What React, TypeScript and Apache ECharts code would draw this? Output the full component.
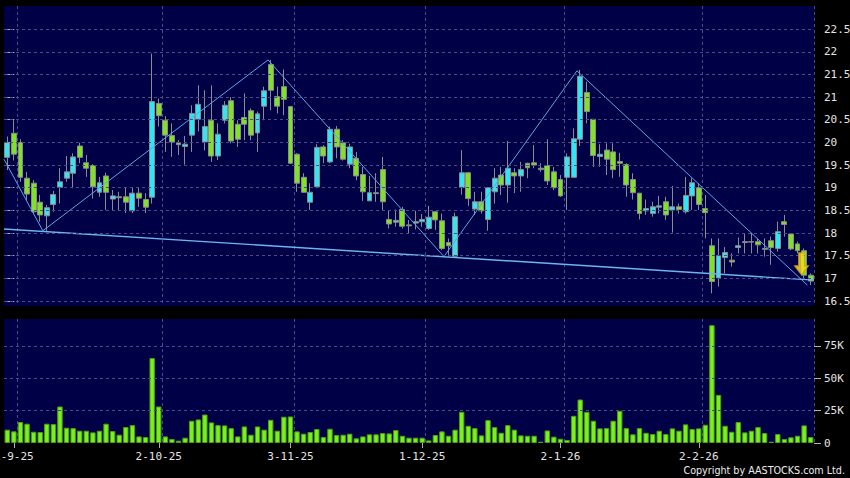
import React, { useEffect, useRef } from 'react';
import * as echarts from 'echarts';

// Trading days (day numbers) per month, d-m-yy labels
const aug25Days = [29];
const sep25Days = [1, 2, 3, 4, 5, 8, 9, 10, 11, 12, 15, 16, 17, 18, 19, 22, 23, 24, 25, 26, 29, 30];
const oct25Days = [2, 3, 6, 8, 9, 10, 13, 14, 15, 16, 17, 20, 21, 22, 23, 24, 27, 28, 30, 31];
const nov25Days = [3, 4, 5, 6, 7, 10, 11, 12, 13, 14, 17, 18, 19, 20, 21, 24, 25, 26, 27, 28];
const dec25Days = [1, 2, 3, 4, 5, 8, 9, 10, 11, 12, 15, 16, 17, 18, 19, 22, 23, 24, 29, 30, 31];
const jan26Days = [2, 5, 6, 7, 8, 9, 12, 13, 14, 15, 16, 19, 20, 21, 22, 23, 26, 27, 28, 29, 30];
const feb26Days = [2, 3, 4, 5, 6, 9, 10, 11, 12, 13, 16, 20, 23, 24, 25, 26, 27];
const mar26Days = [2];

const tickLabels = ['1-9-25', '2-10-25', '3-11-25', '1-12-25', '2-1-26', '2-2-26'];

const openP = [19.67,20.2,20.0,19.21,19.1,18.68,18.38,18.63,19.01,19.21,
 19.32,19.92,19.55,19.49,18.9,19.26,18.75,18.8,18.8,18.49,
 18.88,18.74,18.79,20.86,20.49,20.15,19.99,19.91,20.16,20.51,
 20.01,20.49,19.7,20.49,20.92,20.4,20.55,20.7,20.21,20.8,
 21.72,21.01,21.23,20.79,19.74,19.23,18.68,19.02,19.9,19.57,
 20.29,19.99,19.52,19.65,19.29,18.71,18.89,19.4,18.3,18.24,
 18.52,18.18,18.22,18.25,18.1,18.47,18.27,17.79,17.49,19.01,
 19.33,18.53,18.69,18.3,18.91,19.28,19.06,19.33,19.26,19.54,
 19.55,19.43,19.49,19.35,19.18,19.23,19.23,20.07,21.1,20.51,
 19.69,19.83,19.79,19.58,19.51,19.18,18.88,18.49,18.43,18.57,
 18.69,18.51,18.58,18.47,18.82,19.0,18.54,17.72,17.01,17.46,
 17.4,17.68,17.79,17.8,17.81,17.66,17.83,17.66,18.25,17.98,
 17.76,17.61,17.07];

const closeP = [20.0,19.74,19.23,18.86,18.47,18.4,18.56,18.85,19.13,19.35,
 19.68,19.67,19.43,19.02,19.11,18.9,18.82,18.78,18.68,18.88,
 18.77,18.57,20.9,20.59,20.16,20.01,19.95,19.96,20.64,20.84,
 20.35,19.7,20.18,20.82,20.03,20.07,20.4,20.16,20.63,21.14,
 21.15,20.8,20.95,19.54,19.1,18.9,18.9,19.89,19.7,20.29,
 19.9,19.63,19.9,19.26,18.91,18.89,18.87,18.69,18.2,18.28,
 18.15,18.16,18.25,18.3,18.35,18.29,17.66,17.72,18.36,19.33,
 18.76,18.69,18.49,19.0,19.21,19.06,19.43,19.26,19.4,19.44,
 19.5,19.4,19.15,19.0,18.82,19.68,20.08,21.46,20.68,19.71,
 19.74,19.63,19.4,19.54,19.06,18.89,18.43,18.54,18.58,18.6,
 18.4,18.58,18.52,18.83,19.11,18.63,18.45,16.93,17.5,17.57,
 17.36,17.72,17.81,17.81,17.74,17.64,17.68,18.03,18.19,17.65,
 17.61,17.07,16.94];

const lowP = [19.39,19.6,19.13,18.73,18.43,18.25,18.05,18.47,18.65,19.13,
 18.99,19.54,19.24,18.76,18.8,18.51,18.51,18.51,18.44,18.44,
 18.58,18.44,18.65,20.35,19.79,19.68,19.72,19.51,19.79,20.24,
 19.82,19.57,19.61,20.42,19.98,19.9,20.05,20.05,19.79,20.49,
 20.71,20.64,20.6,19.52,18.91,18.89,18.51,18.99,19.54,19.54,
 19.65,19.6,19.43,19.17,18.71,18.71,18.69,18.51,18.1,18.14,
 18.1,17.99,18.08,18.14,18.07,18.07,17.62,17.48,17.48,18.85,
 18.6,18.4,18.43,18.05,18.65,18.84,18.67,18.88,18.91,19.21,
 19.43,19.35,19.06,18.95,18.8,18.51,19.23,19.92,20.42,19.46,
 19.46,19.28,19.21,19.24,18.8,18.74,18.3,18.4,18.36,18.43,
 18.29,18.01,18.43,18.43,18.51,18.51,17.88,16.67,16.82,17.11,
 17.26,17.55,17.55,17.55,17.55,17.48,17.3,17.59,17.92,17.62,
 17.55,17.0,16.85];

const highP = [20.13,20.49,20.07,19.35,19.17,18.84,18.62,18.93,19.43,19.7,
 19.76,19.99,19.72,19.52,19.24,19.33,18.95,18.91,19.0,19.0,
 19.0,18.88,21.96,20.97,20.58,20.42,20.05,20.14,20.82,21.26,
 21.15,21.26,20.42,20.91,21.0,20.49,21.08,20.75,20.68,21.23,
 21.82,21.23,21.61,20.8,19.76,19.32,19.1,19.96,19.94,20.35,
 20.36,20.05,19.97,19.79,19.46,19.26,19.32,19.68,18.51,18.52,
 18.58,18.29,18.49,18.42,18.6,18.49,18.43,17.88,18.45,19.83,
 19.35,18.91,18.91,19.01,19.43,19.46,20.03,19.43,19.57,19.55,
 19.94,19.54,20.07,19.46,19.28,19.76,20.31,21.6,21.34,20.51,
 19.96,19.98,19.98,19.77,19.54,19.32,18.88,18.74,18.69,18.82,
 18.8,19.04,18.65,19.24,19.21,19.1,18.84,17.88,17.88,17.69,
 17.55,17.9,17.99,18.0,17.88,17.88,17.92,18.25,18.4,17.99,
 17.81,17.66,17.11];

// Volume in thousands of shares
const volumeK = [10.3,9,16.2,14.9,8.7,8.5,14.9,14.6,28.2,11.8,
 11.5,9.5,9.5,8.2,9.5,14.9,9.2,6.4,12.3,13.8,
 5.1,4.6,65.6,28.2,5.1,3.1,1.8,4.1,17.2,18.2,
 22,15.9,13.8,13.6,11.5,5.1,12.8,6.4,12.8,10.3,
 17.9,9.5,20.3,20.5,9,7.2,8.5,10.8,4.6,11,
 6.2,6.4,7.2,3.6,5.1,6.7,6.7,7.7,7.4,10,
 5.6,4.1,4.1,4.1,2,6.2,9,5.6,10.3,24.1,
 13.3,11.5,5.9,17.7,12.3,7.9,13.8,10.3,5.9,5.6,
 5.6,1,9.7,4.9,3.3,2.3,21,33.6,24.1,17.2,
 11.3,11.5,17.2,24.9,11.5,6.7,11.5,7.9,6.9,9.5,
 6.9,11.3,9.5,14.4,10.8,11.3,14.1,91,37.2,13.3,
 8.7,16.2,8.2,9.5,12.3,7.7,1,6.9,3.1,4.4,
 5.6,13.6,4.6];

// Trend lines: [candle index, price]
const zigzagX = [-0.5, 5.4, 39.6, 66.3, 86.5, 121.5];
const zigzagY = [19.63, 18.05, 21.82, 17.48, 21.58, 16.85];
const supportX = [-0.5, 122.5];
const supportY = [18.09, 16.96];
const arrowPoint = [120.6, 17.32];

const priceTicks = [16.5, 17, 17.5, 18, 18.5, 19, 19.5, 20, 20.5, 21, 21.5, 22, 22.5];
const volumeTicks = [0, 25, 50, 75];

const NAVY = '#000046';
const GRID = '#4b4b86';
const UP = '#33e4f2';
const DOWN = '#80e224';
const BORDER = '#8c8c8c';
const VOL = '#7cf01c';
const LABEL = '#e4e4e4';
const MONO = '"DejaVu Sans Mono", monospace';

function buildCategories(): string[] {
  const months: [number[], number, number][] = [
    [aug25Days, 8, 25], [sep25Days, 9, 25], [oct25Days, 10, 25], [nov25Days, 11, 25],
    [dec25Days, 12, 25], [jan26Days, 1, 26], [feb26Days, 2, 26], [mar26Days, 3, 26],
  ];
  const out: string[] = [];
  months.forEach(([days, m, y]) => days.forEach((d) => out.push(`${d}-${m}-${y}`)));
  return out;
}

export default function App() {
  const ref = useRef<HTMLDivElement>(null);

  useEffect(() => {
    if (!ref.current) return;
    const chart = echarts.init(ref.current, undefined, { renderer: 'svg' });
    const categories = buildCategories();
    const labelIdx = new Set(tickLabels.map((t) => categories.indexOf(t)));
    const gridIdx = new Set(Array.from(labelIdx).map((i) => i + 1));
    const labelFn = (i: number) => labelIdx.has(i);
    const gridFn = (i: number) => gridIdx.has(i);

    const candles = openP.map((o, i) => [o, closeP[i], lowP[i], highP[i]]);
    const zigzag = zigzagX.map((x, i) => [x, zigzagY[i]]);
    const support = supportX.map((x, i) => [x, supportY[i]]);

    const splitStyle = { color: GRID, type: [3, 3] as any, width: 1 };

    const option: any = {
      animation: false,
      backgroundColor: '#000000',
      grid: [
        { left: 4, top: 6, width: 810, height: 300, show: true, backgroundColor: NAVY, borderWidth: 0, containLabel: false, outerBoundsMode: 'none' },
        { left: 4, top: 319, width: 810, height: 124, show: true, backgroundColor: NAVY, borderWidth: 0, containLabel: false, outerBoundsMode: 'none' },
      ],
      xAxis: [
        {
          type: 'category', gridIndex: 0, data: categories, boundaryGap: true,
          axisLine: { show: false }, axisTick: { show: false }, axisLabel: { show: false },
          splitLine: { show: true, interval: gridFn, lineStyle: splitStyle },
        },
        {
          type: 'category', gridIndex: 1, data: categories, boundaryGap: true,
          axisLine: { show: false },
          axisTick: { show: true, alignWithLabel: true, interval: labelFn, length: 5, lineStyle: { color: '#b0b0b0' } },
          axisLabel: { interval: labelFn, color: LABEL, fontFamily: MONO, fontSize: 11, margin: 8, hideOverlap: false },
          splitLine: { show: true, interval: gridFn, lineStyle: splitStyle },
        },
        { type: 'value', gridIndex: 0, min: -0.5, max: 122.5, show: false },
      ],
      yAxis: [
        {
          type: 'value', gridIndex: 0, position: 'right', min: 16.39, max: 23.01, scale: true,
          axisLine: { show: false },
          axisTick: { show: true, customValues: priceTicks, length: 7, lineStyle: { color: '#b0b0b0' } },
          axisLabel: { customValues: priceTicks, color: LABEL, fontFamily: MONO, fontSize: 11, margin: 10, formatter: (v: number) => String(v) },
          splitLine: { show: false },
        },
        {
          type: 'value', gridIndex: 1, position: 'right', min: 0, max: 95.8,
          axisLine: { show: false },
          axisTick: { show: true, customValues: volumeTicks, length: 7, lineStyle: { color: '#b0b0b0' } },
          axisLabel: { customValues: volumeTicks, color: LABEL, fontFamily: MONO, fontSize: 11, margin: 10, formatter: (v: number) => (v === 0 ? '0' : `${v}K`) },
          splitLine: { show: false },
        },
      ],
      series: [
        {
          type: 'line', xAxisIndex: 0, yAxisIndex: 0, data: [], z: 1, silent: true,
          markLine: {
            silent: true, symbol: ['none', 'none'], label: { show: false },
            lineStyle: splitStyle, emphasis: { disabled: true },
            data: priceTicks.map((v) => ({ yAxis: v })),
          },
        },
        {
          type: 'line', xAxisIndex: 1, yAxisIndex: 1, data: [], z: 1, silent: true,
          markLine: {
            silent: true, symbol: ['none', 'none'], label: { show: false },
            lineStyle: splitStyle, emphasis: { disabled: true },
            data: volumeTicks.filter((v) => v > 0).map((v) => ({ yAxis: v })),
          },
        },
        {
          type: 'candlestick', xAxisIndex: 0, yAxisIndex: 0, data: candles, barWidth: '82%', z: 3,
          itemStyle: { color: UP, color0: DOWN, borderColor: BORDER, borderColor0: BORDER, borderWidth: 1 },
        },
        {
          type: 'line', xAxisIndex: 2, yAxisIndex: 0, data: zigzag, symbol: 'none', z: 4, silent: true,
          lineStyle: { color: '#58a8e6', width: 1 },
        },
        {
          type: 'line', xAxisIndex: 2, yAxisIndex: 0, data: support, symbol: 'none', z: 4, silent: true,
          lineStyle: { color: '#6cb6ee', width: 1.4 },
        },
        {
          type: 'scatter', xAxisIndex: 2, yAxisIndex: 0, data: [arrowPoint], z: 5, silent: true,
          symbol: 'path://M4,0 L10,0 L10,13 L14,13 L7,22 L0,13 L4,13 Z',
          symbolSize: [14, 22], symbolKeepAspect: false,
          itemStyle: {
            color: new echarts.graphic.LinearGradient(0, 0, 1, 0, [
              { offset: 0, color: '#fff27a' },
              { offset: 0.5, color: '#ffe01a' },
              { offset: 1, color: '#f7c400' },
            ]),
            borderColor: '#d99a00', borderWidth: 1,
          },
        },
        {
          type: 'bar', xAxisIndex: 1, yAxisIndex: 1, data: volumeK, barWidth: '82%', z: 3,
          itemStyle: { color: VOL, borderColor: '#48a012', borderWidth: 1 },
        },
      ],
      graphic: [
        {
          type: 'text', right: 5, top: 465,
          style: { text: 'Copyright by AASTOCKS.com Ltd.', fill: '#ececec', font: '9.6px "DejaVu Sans"' },
        },
      ],
    };

    chart.setOption(option);
    return () => chart.dispose();
  }, []);

  return (
    <div
      ref={ref}
      style={{ position: 'fixed', left: 0, top: 0, width: 850, height: 478, background: '#000' }}
    />
  );
}
